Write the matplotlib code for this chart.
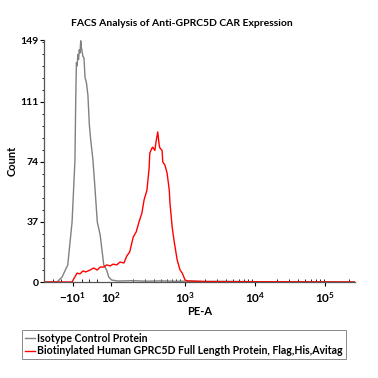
import numpy as np
import matplotlib
matplotlib.use("Agg")
from matplotlib import pyplot as plt

plt.rcParams["font.family"] = ["Lato", "DejaVu Sans"]
plt.rcParams["mathtext.fontset"] = "custom"
plt.rcParams["mathtext.bf"] = "Lato:bold"
plt.rcParams["mathtext.rm"] = "Lato"

# x positions are on the display scale: one unit = one decade, 10^2 -> 2.0
iso_x = [1.07, 1.25, 1.32, 1.40, 1.46, 1.50, 1.51, 1.52, 1.53, 1.54, 1.55, 1.56, 1.57, 1.58, 1.59,
         1.60, 1.61, 1.625, 1.64, 1.66, 1.68, 1.70, 1.72, 1.75, 1.78, 1.81, 1.85, 1.90, 1.94, 1.97,
         2.01, 2.10, 2.30, 2.50, 2.70, 2.90, 3.10, 3.30, 3.60, 4.00, 4.50, 5.39]
iso_y = [0, 0, 3, 10.5, 37, 75, 110, 135, 133, 140, 137, 143, 141, 148.5, 144,
         141.6, 139, 138, 126, 122.5, 115, 96.7, 87, 75, 56.6, 37, 29, 10.5, 7.4, 3,
         1.2, 0.6, 0.8, 0.5, 0.7, 0.4, 0.6, 0.3, 0.4, 0.2, 0.1, 0]

biot_x = [1.07, 1.46, 1.49, 1.53, 1.57, 1.61, 1.65, 1.71, 1.76, 1.81, 1.85, 1.90, 1.94, 1.99, 2.03,
          2.08, 2.125, 2.18, 2.22, 2.26, 2.31, 2.35, 2.39, 2.43, 2.46, 2.50, 2.53, 2.54, 2.57, 2.58,
          2.61, 2.625, 2.65, 2.67, 2.68, 2.71, 2.72, 2.75, 2.78, 2.81, 2.82, 2.85, 2.875, 2.92, 2.96,
          2.99, 3.03, 3.07, 3.30, 3.60, 5.39]
biot_y = [0, 0, 2.5, 5.5, 5, 6.8, 6.2, 7.4, 8.6, 7.4, 9.2, 9.2, 10.5, 9.9, 11,
          10.5, 12.3, 11.7, 16, 18.5, 27.7, 30.8, 37, 42.5, 50.5, 56.6, 70, 79.4, 82.5, 83,
          81, 86, 92.4, 84.3, 82.5, 81, 73.9, 72, 67, 56.6, 48.6, 33.9, 25.9, 13.5, 7.4,
          5.5, 1.2, 0.6, 0.3, 0.2, 0]

tick_pos = [1.47, 2.0, 3.03, 4.0, 4.97]
tick_labels = [r"$\mathbf{-10^{1}}$", r"$\mathbf{10^{2}}$", r"$\mathbf{10^{3}}$",
               r"$\mathbf{10^{4}}$", r"$\mathbf{10^{5}}$"]
y_ticks = [0, 37, 74, 111, 149]

fig = plt.figure(figsize=(3.78, 3.78), dpi=100)
ax = fig.add_axes([44 / 378, 96 / 378, 311 / 378, 242 / 378])

ax.plot(iso_x, iso_y, color="#808080", lw=1.0, label="Isotype Control Protein")
ax.plot(biot_x, biot_y, color="#ff0000", lw=1.0,
        label="Biotinylated Human GPRC5D Full Length Protein, Flag,His,Avitag")

ax.set_xlim(1.07, 5.39)
ax.set_ylim(0, 149)

ax.spines["top"].set_visible(False)
ax.spines["right"].set_visible(False)
for s in ("left", "bottom"):
    ax.spines[s].set_color("#555555")
    ax.spines[s].set_linewidth(0.9)

ax.set_yticks(y_ticks)
ax.set_yticklabels([str(v) for v in y_ticks], fontsize=7.5, fontweight="bold")
ax.set_yticks(np.arange(0, 149, 7.4), minor=True)
ax.tick_params(axis="y", which="major", length=3, width=0.8, pad=1)
ax.tick_params(axis="y", which="minor", length=1.5, width=0.6)

ax.set_xticks(tick_pos)
ax.set_xticklabels(tick_labels, fontsize=8.5)
minor = [d + np.log10(k) for d in (2, 3, 4, 5) for k in range(2, 10)]
minor += [1.2, 1.3, 1.6, 1.7, 1.8]
ax.set_xticks([m for m in minor if m < 5.39], minor=True)
ax.tick_params(axis="x", which="major", length=3, width=0.8, pad=3)
ax.tick_params(axis="x", which="minor", length=2, width=0.6, direction="in")

ax.set_xlabel("PE-A", fontsize=8, fontweight="bold", labelpad=1)
ax.set_ylabel("Count", fontsize=8, fontweight="bold")
ax.yaxis.set_label_coords(-(44 - 18) / 311, 0.5)
fig.text(182 / 378, 1 - 24 / 378, "FACS Analysis of Anti-GPRC5D CAR Expression",
         ha="center", va="center", fontsize=7.5, fontweight="bold")

leg = fig.legend(loc="upper left", bbox_to_anchor=(22 / 378, 1 - 330 / 378),
                 prop={"size": 7.6, "weight": "bold"}, handlelength=0.9,
                 handletextpad=0.2, borderpad=0.3, labelspacing=0.1,
                 borderaxespad=0, fancybox=False, edgecolor="#888888", framealpha=1)
leg.get_frame().set_linewidth(0.7)

fig.savefig("out.png", dpi=100)
